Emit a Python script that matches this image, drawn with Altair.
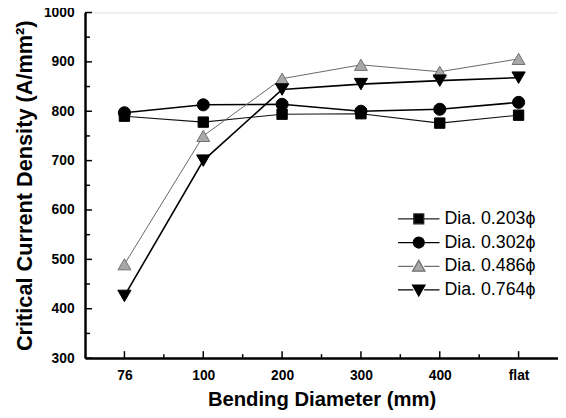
import altair as alt
import pandas as pd

# ---- data ----
categories = ["76", "100", "200", "300", "400", "flat"]
series_names = ["Dia. 0.203ϕ", "Dia. 0.302ϕ", "Dia. 0.486ϕ", "Dia. 0.764ϕ"]
jc_0203 = [790, 778, 794, 795, 776, 792]
jc_0302 = [797, 813, 814, 800, 804, 818]
jc_0486 = [490, 750, 866, 894, 880, 906]
jc_0764 = [426, 700, 844, 855, 862, 868]
y_major_ticks = [300, 400, 500, 600, 700, 800, 900, 1000]
y_minor_ticks = [350, 450, 550, 650, 750, 850, 950]
x_major_ticks = [0, 1, 2, 3, 4, 5]
x_minor_ticks = [0.5, 1.5, 2.5, 3.5, 4.5]

values = [jc_0203, jc_0302, jc_0486, jc_0764]
rows = []
for name, vals in zip(series_names, values):
    for i, (c, v) in enumerate(zip(categories, vals)):
        rows.append({"series": name, "idx": i, "cat": c, "value": v})
df = pd.DataFrame(rows)

FONT = "Liberation Sans"
label_expr = "[" + ",".join("'%s'" % c for c in categories) + "][datum.value]"

xscale = alt.Scale(domain=[-0.5, 5.5], nice=False, zero=False)
yscale = alt.Scale(domain=[300, 1000], nice=False, zero=False)

x_axis = alt.Axis(values=x_major_ticks, labelExpr=label_expr, title="Bending Diameter (mm)",
                  tickSize=0, labelPadding=11, titlePadding=7, grid=False,
                  domainColor="black", domainWidth=2.5, labelFont=FONT, labelFontSize=14,
                  labelFontWeight="bold", labelColor="black", titleFont=FONT,
                  titleFontSize=20.5, titleFontWeight="bold", titleColor="black")
y_axis = alt.Axis(values=y_major_ticks, format="d", title="Critical Current Density (A/mm²)",
                  tickSize=0, labelPadding=11, titlePadding=7, grid=False,
                  domainColor="black", domainWidth=2.5, labelFont=FONT, labelFontSize=14,
                  labelFontWeight="bold", labelColor="black", titleFont=FONT,
                  titleFontSize=22, titleFontWeight="bold", titleColor="black")
x_enc = alt.X("idx:Q", scale=xscale, axis=x_axis)
y_enc = alt.Y("value:Q", scale=yscale, axis=y_axis)

styles = {
    "Dia. 0.203ϕ": dict(line="#111111", lw=1.1, shape="square", size=110, fill="black", stroke="black"),
    "Dia. 0.302ϕ": dict(line="black", lw=1.6, shape="circle", size=150, fill="black", stroke="black"),
    "Dia. 0.486ϕ": dict(line="#666666", lw=1.0, shape="triangle-up", size=170, fill="#a8a8a8", stroke="#707070"),
    "Dia. 0.764ϕ": dict(line="black", lw=1.6, shape="triangle-down", size=180, fill="black", stroke="black"),
}

base = alt.Chart(df)
layers = []
for name in series_names:
    st = styles[name]
    layers.append(
        base.transform_filter(alt.datum.series == name)
        .mark_line(color=st["line"], strokeWidth=st["lw"])
        .encode(x=x_enc, y=y_enc)
    )
for name in series_names:
    st = styles[name]
    layers.append(
        base.transform_filter(alt.datum.series == name)
        .mark_point(shape=st["shape"], size=st["size"], filled=True, fill=st["fill"],
                    stroke=st["stroke"], strokeWidth=1, opacity=1)
        .encode(x=x_enc, y=y_enc)
    )

# inward ticks
yt_major = alt.Chart(pd.DataFrame({"value": y_major_ticks})).mark_rule(color="black", strokeWidth=1.5).encode(
    y=y_enc, x=alt.value(0), x2=alt.value(7))
yt_minor = alt.Chart(pd.DataFrame({"value": y_minor_ticks})).mark_rule(color="black", strokeWidth=1.5).encode(
    y=y_enc, x=alt.value(0), x2=alt.value(5))
xt_major = alt.Chart(pd.DataFrame({"idx": x_major_ticks})).mark_rule(color="black", strokeWidth=1.5).encode(
    x=x_enc, y=alt.value(350), y2=alt.value(343))
xt_minor = alt.Chart(pd.DataFrame({"idx": x_minor_ticks})).mark_rule(color="black", strokeWidth=1.5).encode(
    x=x_enc, y=alt.value(350), y2=alt.value(346))

# legend driven by an empty layer with custom symbols (line + marker)
seg = "M-4.2,0H-1.1M1.1,0H4.2"
paths = [
    seg + "M-1,-1H1V1H-1Z",
    seg + "M-1.1,0A1.1,1.1,0,1,1,1.1,0A1.1,1.1,0,1,1,-1.1,0Z",
    seg + "M0,-1.2L1.25,1L-1.25,1Z",
    seg + "M0,1.2L1.25,-1L-1.25,-1Z",
]
leg = alt.Legend(title=None, orient="none", legendX=329, legendY=200, labelFont=FONT,
                 labelFontSize=18, labelColor="black", labelOffset=17, rowPadding=6,
                 padding=0, symbolSize=100, symbolStrokeWidth=1.3, symbolOpacity=1)
legend_layer = (
    base.transform_filter("datum.value < 0")
    .mark_point(filled=True, size=100, opacity=1, strokeWidth=1.3)
    .encode(
        x=x_enc, y=y_enc,
        shape=alt.Shape("series:N", scale=alt.Scale(domain=series_names, range=paths), legend=leg),
        fill=alt.Fill("series:N", scale=alt.Scale(domain=series_names,
                      range=["black", "black", "#a8a8a8", "black"]), legend=leg),
        stroke=alt.Stroke("series:N", scale=alt.Scale(domain=series_names,
                          range=["#222222", "black", "#707070", "black"]), legend=leg),
    )
)

chart = alt.layer(*layers, yt_major, yt_minor, xt_major, xt_minor, legend_layer).properties(
    width=479, height=350,
    autosize=alt.AutoSizeParams(type="none"),
    padding={"left": 78, "top": 2, "right": 0, "bottom": 50},
).configure_view(stroke="black", strokeWidth=1.5).configure(background="white")

chart.save("out.html", embed_options={"renderer": "svg", "actions": False})
